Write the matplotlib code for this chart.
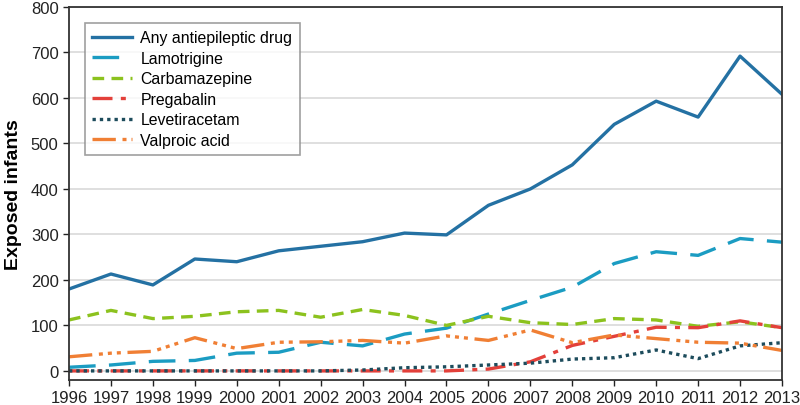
import matplotlib
matplotlib.use("Agg")
import matplotlib.pyplot as plt

plt.rcParams['font.family'] = ['Liberation Sans', 'DejaVu Sans']

years = list(range(1996, 2014))
any_aed = [180, 213, 189, 246, 240, 264, 274, 284, 303, 299, 364, 400, 453, 542, 593, 558, 692, 608]
lamotrigine = [8, 13, 21, 23, 39, 41, 63, 55, 81, 94, 125, 155, 184, 236, 262, 254, 291, 283]
carbamazepine = [112, 133, 115, 120, 130, 133, 118, 135, 122, 100, 120, 106, 102, 115, 112, 98, 108, 95]
pregabalin = [0, 0, 0, 0, 0, 0, 0, 0, 0, 0, 4, 20, 56, 76, 96, 95, 110, 95]
levetiracetam = [0, 0, 0, 0, 0, 0, 0, 2, 7, 9, 13, 17, 26, 29, 46, 27, 55, 62]
valproic = [31, 39, 43, 73, 49, 63, 64, 67, 61, 77, 67, 90, 62, 79, 71, 63, 61, 45]
yticks = [0, 100, 200, 300, 400, 500, 600, 700, 800]

fig = plt.figure(figsize=(8, 4.06), dpi=100)
ax = fig.add_axes([69/800, 1-381/406, (782-69)/800, (381-8)/406])

lw = 2.4
ax.plot(years, any_aed, color='#2471a3', lw=lw, label='Any antiepileptic drug')
ax.plot(years, lamotrigine, color='#1b9cc2', lw=lw, dashes=(8, 4), label='Lamotrigine')
ax.plot(years, carbamazepine, color='#8cc21e', lw=lw, dashes=(3.5, 2.2), label='Carbamazepine')
ax.plot(years, pregabalin, color='#e3403a', lw=lw, dashes=(6, 2.5, 1.5, 2.5), label='Pregabalin')
ax.plot(years, levetiracetam, color='#1d4c5c', lw=lw, dashes=(1, 1.2), label='Levetiracetam')
ax.plot(years, valproic, color='#f07f34', lw=lw, dashes=(7, 2, 1.2, 1.5, 1.2, 1.5, 1.2, 2), label='Valproic acid')

ax.set_xlim(1996, 2013)
ax.set_ylim(-20, 800)
ax.set_xticks(years)
ax.set_yticks(yticks)
ax.tick_params(axis='both', labelsize=12, direction='out', length=4, width=1, colors='#222222')
ax.yaxis.grid(True, color='#d9d9d9', lw=1.2)
ax.set_axisbelow(True)
for s in ax.spines.values():
    s.set_color('#333333')
    s.set_linewidth(1.3)
ax.set_ylabel('Exposed infants', fontsize=14, fontweight='bold', labelpad=6)

leg = ax.legend(loc='upper left', bbox_to_anchor=(0.0224, 0.957), fontsize=11.4, frameon=True,
                fancybox=False, edgecolor='#888888', handlelength=2.5, labelspacing=0.35,
                borderpad=0.45, handletextpad=0.55, borderaxespad=0)
leg.get_frame().set_linewidth(1.2)

fig.savefig('out.png', dpi=100)
